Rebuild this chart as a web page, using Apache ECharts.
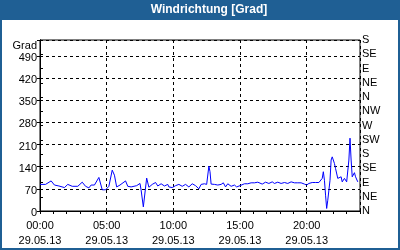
<!DOCTYPE html>
<html><head><meta charset="utf-8">
<script src="https://cdn.jsdelivr.net/npm/echarts@6/dist/echarts.min.js"></script>
<style>html,body{margin:0;padding:0;background:#fff}#c{width:400px;height:250px}</style>
</head><body><div id="c"></div>
<script>
const titleText = 'Windrichtung [Grad]';
const dateLabel = '29.05.13';
const compassLabels = ['N','NE','E','SE','S','SW','W','NW','N','NE','E','SE','S'];
// time of reading in minutes after 00:00
const minutes = [0,25,50,65,85,110,125,145,170,190,205,220,230,245,265,280,295,310,325,335,345,360,365,385,395,410,435,450,455,465,480,490,505,520,530,545,560,575,580,595,610,625,640,655,670,685,700,715,725,740,750,760,765,770,785,800,815,825,835,845,860,875,885,900,920,935,950,965,980,1000,1015,1030,1045,1055,1070,1085,1100,1115,1130,1145,1160,1175,1190,1200,1210,1225,1240,1255,1270,1275,1280,1285,1290,1295,1305,1310,1315,1325,1330,1340,1345,1355,1360,1370,1380,1390,1395,1400,1405,1415,1420,1430];
// wind direction in degrees
const values = [84,84,95,82,79,74,84,78,78,91,78,73,82,82,106,67,67,78,129,113,76,82,76,95,78,76,80,87,66,13,104,75,84,90,79,86,79,84,76,74,80,84,78,84,76,86,80,70,84,86,84,142,124,85,84,82,84,89,76,86,78,82,76,80,86,86,89,89,91,85,91,87,92,87,91,87,90,87,92,89,89,89,85,82,87,90,90,90,103,124,97,50,8,34,97,161,171,150,134,103,97,108,92,103,92,161,230,161,108,121,108,92];

const data = minutes.map((m, i) => [m, values[i]]);
const font = 'Liberation Sans';
const blue = '#1f5f94';
const chart = echarts.init(document.getElementById('c'), null, {renderer: 'canvas'});
chart.setOption({
  animation: false,
  backgroundColor: '#ffffff',
  graphic: [
    {type: 'rect', shape: {x: 0, y: 0, width: 400, height: 20}, style: {fill: blue}, z: 0},
    {type: 'rect', shape: {x: 1, y: 1, width: 398, height: 248}, style: {fill: 'none', stroke: blue, lineWidth: 2}, z: 0},
    {type: 'text', x: 209, y: 10, style: {text: titleText, fill: '#fff', font: 'bold 12px "Liberation Sans"', textAlign: 'center', textVerticalAlign: 'middle'}, z: 10}
  ],
  grid: {left: 40, right: 40, top: 40, bottom: 39, show: true, borderColor: '#000', borderWidth: 1, backgroundColor: 'transparent'},
  xAxis: [
    {
      type: 'value', min: 0, max: 1440, interval: 300, position: 'bottom',
      axisLine: {show: true, lineStyle: {color: '#000', width: 1}},
      axisTick: {show: false},
      splitLine: {show: true, lineStyle: {color: '#000', type: [3, 3], width: 1}},
      axisLabel: {
        color: '#000', fontFamily: font, fontSize: 11, lineHeight: 15, margin: 7,
        formatter: v => v >= 1440 ? '' : String(Math.round(v / 60)).padStart(2, '0') + ':00\n' + dateLabel
      }
    },
    {
      type: 'value', min: 0, max: 1440, interval: 60, position: 'bottom',
      axisLine: {show: false},
      axisTick: {show: true, length: 3, lineStyle: {color: '#000'}},
      splitLine: {show: false},
      axisLabel: {show: false}
    }
  ],
  yAxis: [
    {
      type: 'value', min: 0, max: 540, interval: 70, position: 'left',
      axisLine: {show: true, lineStyle: {color: '#000', width: 1}},
      axisTick: {show: true, length: 3, lineStyle: {color: '#000'}},
      splitLine: {show: true, lineStyle: {color: '#000', type: [3, 3], width: 1}},
      axisLabel: {
        color: '#000', fontFamily: font, fontSize: 11, margin: 3, padding: [4, 0, 0, 0],
        formatter: v => v >= 540 ? '{g|Grad}' : String(v),
        rich: {g: {fontFamily: font, fontSize: 11, color: '#000', padding: [8, 0, 0, 0]}}
      }
    },
    {
      type: 'value', min: 0, max: 540, interval: 45, position: 'right',
      axisLine: {show: true, lineStyle: {color: '#000', width: 1}},
      axisTick: {show: true, length: 3, lineStyle: {color: '#000'}},
      splitLine: {show: false},
      axisLabel: {
        color: '#000', fontFamily: font, fontSize: 11, margin: 2,
        formatter: v => compassLabels[Math.round(v / 45)] || ''
      }
    }
  ],
  series: [{
    type: 'line', xAxisIndex: 0, yAxisIndex: 0, data: data,
    showSymbol: false, symbol: 'none',
    lineStyle: {color: '#0000ff', width: 1}
  }]
});
</script></body></html>
